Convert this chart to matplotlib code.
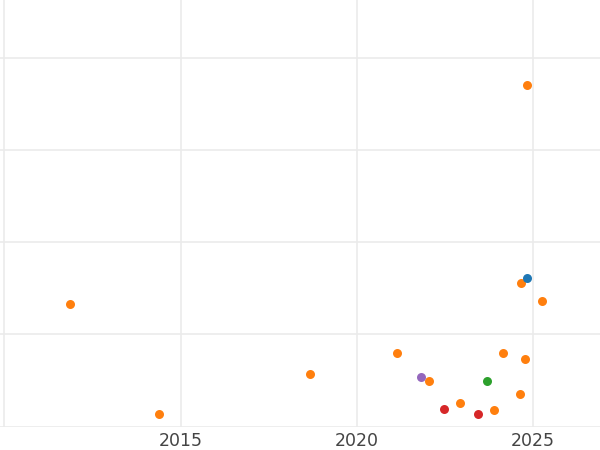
import matplotlib
matplotlib.use("Agg")
import matplotlib.pyplot as plt

# Data (x = year, y = arbitrary units)
orange_x = [2011.86, 2014.38, 2018.66, 2021.14, 2022.05, 2022.93, 2023.90, 2024.14,
            2024.63, 2024.65, 2024.78, 2024.82, 2025.24]
orange_y = [1.333, 0.134, 0.576, 0.795, 0.495, 0.257, 0.178, 0.795,
            0.354, 1.557, 0.733, 3.699, 1.359]
blue_x = [2024.82]
blue_y = [1.614]
green_x = [2023.69]
green_y = [0.495]
red_x = [2022.46, 2023.44]
red_y = [0.195, 0.134]
purple_x = [2021.83]
purple_y = [0.535]

x_ticks = [2010, 2015, 2020, 2025]
x_tick_labels = ["", "2015", "2020", "2025"]
y_ticks = [0, 1, 2, 3, 4]

fig = plt.figure(figsize=(6, 4.5), dpi=100)
ax = fig.add_axes([0, 23.3 / 450, 1, 426.7 / 450])

series = [
    (orange_x, orange_y, "#ff7f0e"),
    (blue_x, blue_y, "#1f77b4"),
    (green_x, green_y, "#2ca02c"),
    (red_x, red_y, "#d62728"),
    (purple_x, purple_y, "#9467bd"),
]
for xs, ys, c in series:
    ax.scatter(xs, ys, s=42, color=c, linewidths=0, zorder=3)

ax.set_xlim(2009.878, 2026.894)
ax.set_ylim(0, 4.623)
ax.set_xticks(x_ticks)
ax.set_xticklabels(x_tick_labels)
ax.set_yticks(y_ticks)
ax.set_yticklabels([])
ax.tick_params(axis="both", length=0, pad=4, labelsize=12.5, labelcolor="#444444")
ax.grid(True, color="#ebebeb", linewidth=1.2, zorder=0)
ax.set_axisbelow(True)
for sp in ax.spines.values():
    sp.set_visible(False)

fig.savefig("out.png", dpi=100, facecolor="white")
